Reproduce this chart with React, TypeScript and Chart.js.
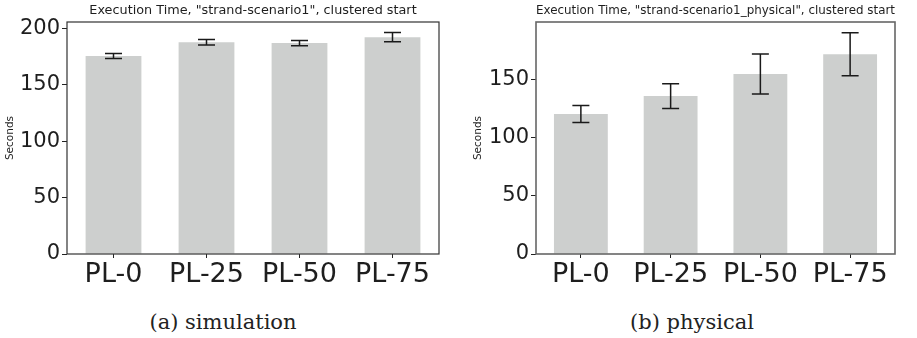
import React, { useEffect, useRef } from "react";
import { Chart, registerables } from "chart.js";

Chart.register(...registerables);

const categories = ["PL-0", "PL-25", "PL-50", "PL-75"];
const simValues = [175.3, 187.5, 186.8, 192.0];
const simErrors = [2.2, 2.4, 2.4, 4.1];
const physValues = [120.2, 135.6, 154.5, 171.5];
const physErrors = [7.3, 10.6, 17.2, 18.5];
const simYMax = 205.5;
const physYMax = 199.2;
const simYTicks = [0, 50, 100, 150, 200];
const physYTicks = [0, 50, 100, 150];
const simTitle = 'Execution Time, "strand-scenario1", clustered start';
const physTitle = 'Execution Time, "strand-scenario1_physical", clustered start';
const yAxisLabel = "Seconds";
const captions = ["(a) simulation", "(b) physical"];

const BAR_COLOR = "#cdcfce";
const TEXT_COLOR = "#1e1e1e";

const errorBarPlugin = {
  id: "errorBars",
  afterDatasetsDraw(chart: any, _args: any, opts: any) {
    const errs: number[] = opts.errors || [];
    const meta = chart.getDatasetMeta(0);
    const ys = chart.scales.y;
    const vals = chart.data.datasets[0].data as number[];
    const ctx = chart.ctx;
    ctx.save();
    ctx.strokeStyle = opts.color || "#1a1a1a";
    ctx.lineWidth = opts.lineWidth || 1.5;
    const cap = opts.capHalf || 8.5;
    meta.data.forEach((bar: any, i: number) => {
      const x = bar.x;
      const yTop = ys.getPixelForValue(vals[i] + errs[i]);
      const yBot = ys.getPixelForValue(vals[i] - errs[i]);
      ctx.beginPath();
      ctx.moveTo(x, yTop);
      ctx.lineTo(x, yBot);
      ctx.moveTo(x - cap, yTop);
      ctx.lineTo(x + cap, yTop);
      ctx.moveTo(x - cap, yBot);
      ctx.lineTo(x + cap, yBot);
      ctx.stroke();
    });
    ctx.restore();
  },
};

const framePlugin = {
  id: "frame",
  afterDraw(chart: any, _args: any, opts: any) {
    const a = chart.chartArea;
    const ctx = chart.ctx;
    ctx.save();
    ctx.strokeStyle = opts.color || "#333";
    ctx.lineWidth = opts.lineWidth || 1;
    ctx.strokeRect(a.left, a.top, a.right - a.left, a.bottom - a.top);
    ctx.restore();
  },
};

type PanelProps = {
  title: string;
  values: number[];
  errors: number[];
  yMax: number;
  yTicks: number[];
  yAxisWidth: number;
  yTitlePad: number;
  rightPad: number;
  frameColor: string;
  frameWidth: number;
  width: number;
  height: number;
  xAxisHeight: number;
};

function BarPanel(p: PanelProps) {
  const ref = useRef<HTMLCanvasElement | null>(null);
  useEffect(() => {
    if (!ref.current) return;
    const chart = new Chart(ref.current, {
      type: "bar",
      data: {
        labels: categories,
        datasets: [
          {
            data: p.values,
            backgroundColor: BAR_COLOR,
            borderWidth: 0,
            barPercentage: 0.6,
            categoryPercentage: 1.0,
          },
        ],
      },
      options: {
        animation: false,
        responsive: false,
        maintainAspectRatio: false,
        events: [],
        layout: { padding: { left: 0, right: p.rightPad, top: 0, bottom: 0 } },
        plugins: {
          legend: { display: false },
          tooltip: { enabled: false },
          title: {
            display: true,
            text: p.title,
            fullSize: false,
            color: TEXT_COLOR,
            font: { family: "'DejaVu Sans'", size: 12.8, weight: "normal" },
            padding: { top: 3, bottom: 3.64 },
          },
          errorBars: { errors: p.errors, color: "#1a1a1a", lineWidth: 1.5, capHalf: 8.5 },
          frame: { color: p.frameColor, lineWidth: p.frameWidth },
        } as any,
        scales: {
          x: {
            type: "category",
            offset: true,
            grid: {
              display: true,
              drawOnChartArea: false,
              drawTicks: true,
              tickLength: 4,
              offset: false,
              color: "#222",
            },
            border: { display: false },
            ticks: {
              color: TEXT_COLOR,
              font: { family: "'DejaVu Sans'", size: 27 },
              padding: 1,
              maxRotation: 0,
              autoSkip: false,
            },
            afterFit(scale: any) {
              scale.height = p.xAxisHeight;
            },
          },
          y: {
            type: "linear",
            min: 0,
            max: p.yMax,
            grid: {
              display: true,
              drawOnChartArea: false,
              drawTicks: true,
              tickLength: 5,
              color: "#222",
            },
            border: { display: false },
            ticks: {
              color: TEXT_COLOR,
              font: { family: "'DejaVu Sans'", size: 21 },
              padding: 2,
              autoSkip: false,
            },
            title: {
              display: true,
              text: yAxisLabel,
              color: TEXT_COLOR,
              font: { family: "'DejaVu Sans'", size: 10.5 },
              padding: { top: p.yTitlePad, bottom: 0 },
            },
            afterBuildTicks(scale: any) {
              scale.ticks = p.yTicks.map((v) => ({ value: v }));
            },
            afterFit(scale: any) {
              scale.width = p.yAxisWidth;
            },
          },
        },
      },
      plugins: [errorBarPlugin, framePlugin],
    } as any);
    return () => chart.destroy();
  }, []);
  return (
    <canvas
      ref={ref}
      width={p.width}
      height={p.height}
      style={{ width: p.width + "px", height: p.height + "px", display: "block" }}
    />
  );
}

export default function App() {
  const captionStyle: React.CSSProperties = {
    position: "absolute",
    top: 309,
    fontFamily: "'DejaVu Serif', serif",
    fontSize: 21,
    color: "#222",
    whiteSpace: "nowrap",
    transform: "translateX(-50%)",
    lineHeight: "26px",
  };
  return (
    <div
      style={{
        position: "fixed",
        left: 0,
        top: 0,
        width: 917,
        height: 338,
        background: "#fff",
        overflow: "hidden",
      }}
    >
      <div style={{ position: "absolute", left: 0, top: 0 }}>
        <BarPanel
          title={simTitle}
          values={simValues}
          errors={simErrors}
          yMax={simYMax}
          yTicks={simYTicks}
          yAxisWidth={67}
          yTitlePad={4}
          rightPad={21}
          frameColor="#333"
          frameWidth={1.2}
          width={460}
          height={292}
          xAxisHeight={38}
        />
      </div>
      <div style={{ position: "absolute", left: 460, top: 0 }}>
        <BarPanel
          title={physTitle}
          values={physValues}
          errors={physErrors}
          yMax={physYMax}
          yTicks={physYTicks}
          yAxisWidth={76}
          yTitlePad={11.5}
          rightPad={22}
          frameColor="#666"
          frameWidth={1.6}
          width={457}
          height={292}
          xAxisHeight={38}
        />
      </div>
      <div style={{ ...captionStyle, left: 223 }}>{captions[0]}</div>
      <div style={{ ...captionStyle, left: 692 }}>{captions[1]}</div>
    </div>
  );
}
